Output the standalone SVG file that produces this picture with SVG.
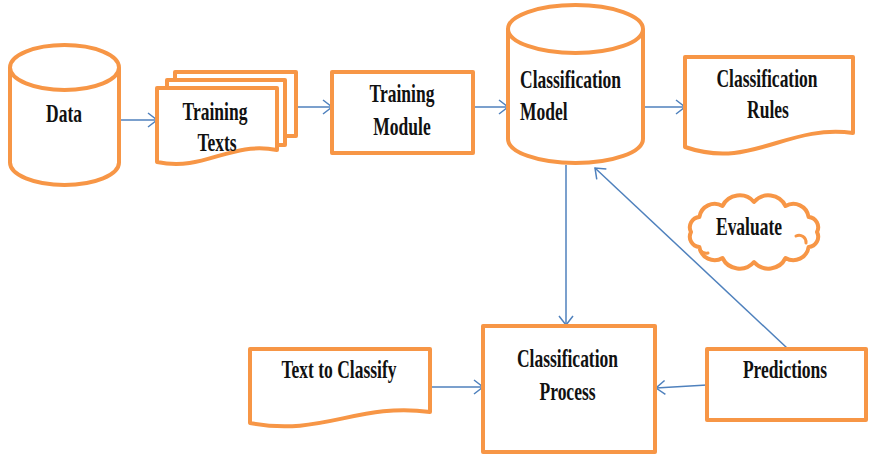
<svg xmlns="http://www.w3.org/2000/svg" width="872" height="466" viewBox="0 0 872 466">
<defs>
<style>
.s{fill:#fff;stroke:#F79646;stroke-width:4;stroke-linejoin:round}
.k{fill:none;stroke:#F79646;stroke-width:3;stroke-linecap:round}
.t{font-family:"Liberation Serif","Times New Roman",serif;font-weight:bold;font-size:17.5px;fill:#111;text-anchor:middle}
.l{text-anchor:start}
.c{fill:none;stroke:#4F81BD;stroke-width:1.5}
</style>
<marker id="a" markerUnits="userSpaceOnUse" markerWidth="12" markerHeight="16" refX="10" refY="8" orient="auto">
<path d="M1,1 L10,8 L1,15" fill="none" stroke="#4F81BD" stroke-width="1.5"/>
</marker>
</defs>
<rect width="872" height="466" fill="#fff"/>

<g id="connectors">
<line class="c" x1="119" y1="120" x2="157" y2="120" marker-end="url(#a)"/>
<line class="c" x1="296" y1="107" x2="332" y2="107" marker-end="url(#a)"/>
<line class="c" x1="473" y1="107" x2="508" y2="107" marker-end="url(#a)"/>
<line class="c" x1="643" y1="107" x2="685" y2="107" marker-end="url(#a)"/>
<line class="c" x1="566" y1="165" x2="566" y2="325" marker-end="url(#a)"/>
<line class="c" x1="787" y1="348" x2="595" y2="168" marker-end="url(#a)"/>
<line class="c" x1="430" y1="387" x2="483" y2="387" marker-end="url(#a)"/>
<line class="c" x1="707" y1="385" x2="656" y2="388" marker-end="url(#a)"/>
</g>

<g id="data">
<path class="s" d="M10,67.5 V162.5 A54.5,22.5 0 0 0 119,162.5 V67.5"/>
<ellipse class="s" cx="64.5" cy="67.5" rx="54.5" ry="22.5"/>
<text class="t" transform="translate(64,122) scale(1,1.38)">Data</text>
</g>

<g id="training-texts">
<rect class="s" x="175" y="72" width="121" height="64"/>
<rect class="s" x="167" y="80" width="118" height="65"/>
<path class="s" d="M157,88 H277 V150 C229,141 205,172 157,162 Z"/>
<text class="t" transform="translate(215,120) scale(1,1.38)">Training</text>
<text class="t" transform="translate(217,151) scale(1,1.38)">Texts</text>
</g>

<g id="training-module">
<rect class="s" x="332" y="72" width="141" height="81"/>
<text class="t" transform="translate(402,102) scale(1,1.38)">Training</text>
<text class="t" transform="translate(402,135) scale(1,1.38)">Module</text>
</g>

<g id="classification-model">
<path class="s" d="M508,29 V139 A67.5,24 0 0 0 643,139 V29"/>
<ellipse class="s" cx="575.5" cy="29" rx="67.5" ry="24"/>
<text class="t l" transform="translate(520,88) scale(1,1.38)">Classification</text>
<text class="t l" transform="translate(520,120) scale(1,1.38)">Model</text>
</g>

<g id="classification-rules">
<path class="s" d="M685,57 H853 V133 C786,124 752,170 685,147 Z"/>
<text class="t" transform="translate(767,87) scale(1,1.38)">Classification</text>
<text class="t" transform="translate(768,118) scale(1,1.38)">Rules</text>
</g>

<g id="evaluate">
<path class="s" d="M691,232 A10.3,10.3 0 0 1 699.4,217 A15.4,15.4 0 0 1 722.5,206 A19,19 0 0 1 754,202 A19,19 0 0 1 785.5,206 A15.4,15.4 0 0 1 808.6,217 A10.3,10.3 0 0 1 817,232 A10.3,10.3 0 0 1 808.6,247 A15.4,15.4 0 0 1 785.5,258 A19,19 0 0 1 754,262 A19,19 0 0 1 722.5,258 A15.4,15.4 0 0 1 699.4,247 A10.3,10.3 0 0 1 691,232 Z"/>
<path class="k" d="M796,236 A7,7 0 0 1 806,243"/>
<path class="k" d="M700,250 A8,8 0 0 0 708,253"/>
<text class="t" transform="translate(749,235) scale(1,1.38)">Evaluate</text>
</g>

<g id="text-to-classify">
<path class="s" d="M250,349 H430 V412 C358,402 322,437 250,423 Z"/>
<text class="t" transform="translate(339,378) scale(1,1.38)">Text to Classify</text>
</g>

<g id="classification-process">
<rect class="s" x="483" y="326" width="172" height="126"/>
<text class="t" transform="translate(567.5,367) scale(1,1.38)">Classification</text>
<text class="t" transform="translate(567.5,400) scale(1,1.38)">Process</text>
</g>

<g id="predictions">
<rect class="s" x="707" y="349" width="159" height="71"/>
<text class="t" transform="translate(785,378) scale(1,1.38)">Predictions</text>
</g>
</svg>
